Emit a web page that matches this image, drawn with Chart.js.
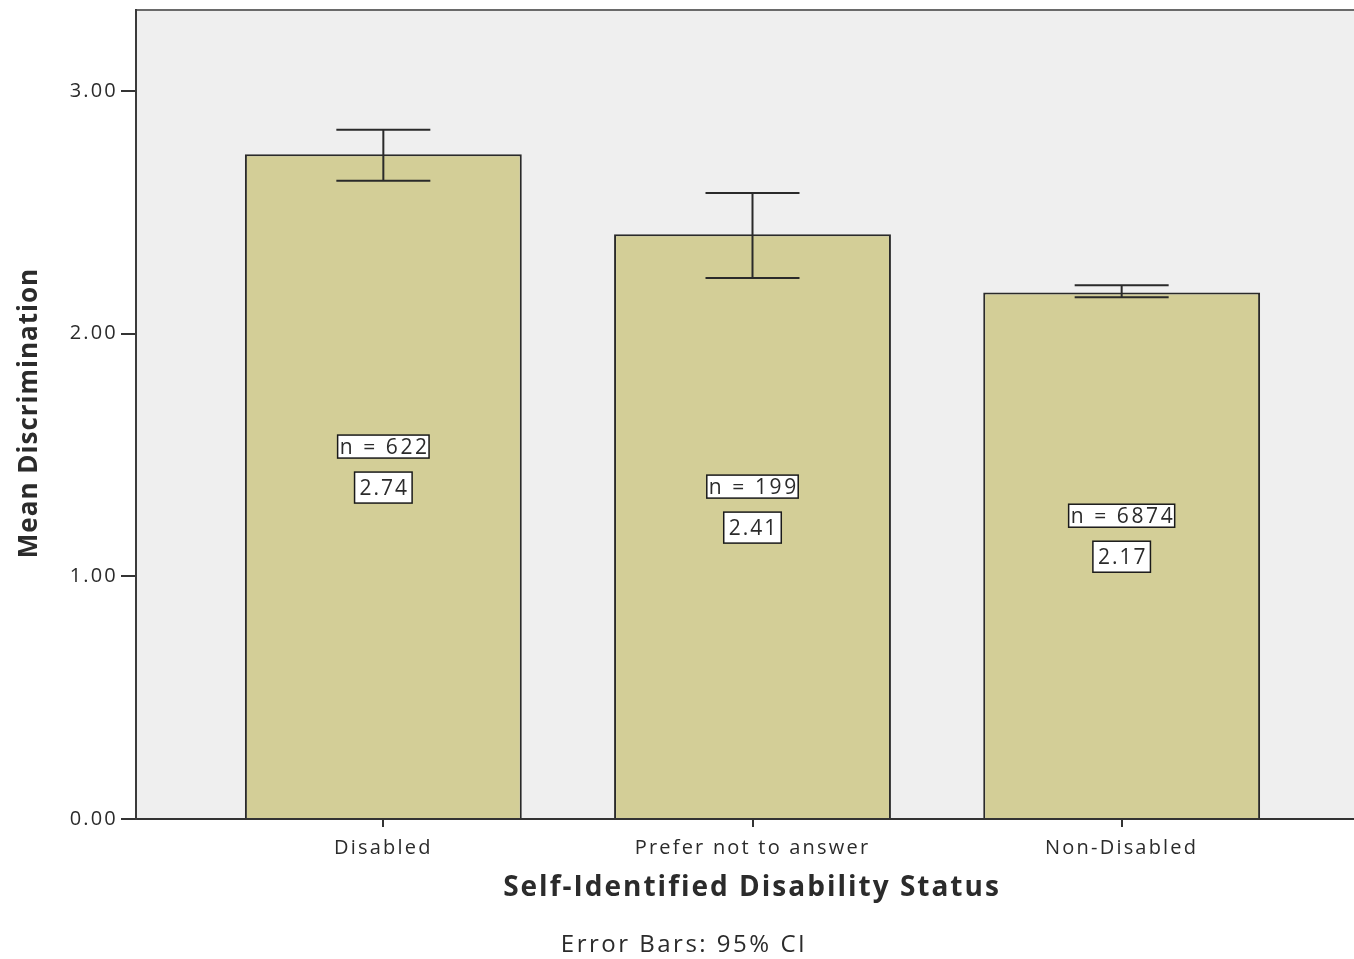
<!DOCTYPE html>
<html>
<head>
<meta charset="utf-8">
<script src="https://cdn.jsdelivr.net/npm/chart.js@4"></script>
<style>
  html, body { margin: 0; padding: 0; background: #ffffff; overflow: hidden; }
  #wrap { width: 1354px; height: 959px; overflow: hidden; }
  canvas { display: block; }
</style>
</head>
<body>
<div id="wrap"><canvas id="c" width="1380" height="959"></canvas></div>
<script>
// ---- data ----
const categories = ['Disabled', 'Prefer not to answer', 'Non-Disabled'];
const means = [2.74, 2.41, 2.17];
const ciLow = [2.63, 2.23, 2.15];
const ciHigh = [2.84, 2.58, 2.20];
const nCounts = [622, 199, 6874];
const yTicks = [0, 1, 2, 3];
const xTitle = 'Self-Identified Disability Status';
const yTitle = 'Mean Discrimination';
const footnote = 'Error Bars: 95% CI';

const FONT = '"Open Sans", "DejaVu Sans", sans-serif';
const TEXT = '#2b2b2b';

const plotBg = {
  id: 'plotBg',
  beforeDraw(chart) {
    const { ctx, chartArea: a } = chart;
    ctx.save();
    ctx.fillStyle = '#efefef';
    ctx.fillRect(a.left, a.top, a.right - a.left, a.bottom - a.top);
    ctx.strokeStyle = '#6a6a6a';
    ctx.lineWidth = 2;
    ctx.beginPath();
    ctx.moveTo(a.left, a.top);
    ctx.lineTo(a.right, a.top);
    ctx.stroke();
    ctx.restore();
    ctx.letterSpacing = '2.2px';
  }
};

const extras = {
  id: 'extras',
  afterDatasetsDraw(chart) {
    const { ctx, scales: { x, y } } = chart;
    ctx.save();
    // error bars
    ctx.strokeStyle = '#2a2a2a';
    ctx.lineWidth = 2;
    for (let i = 0; i < categories.length; i++) {
      const px = x.getPixelForValue(i);
      const yh = y.getPixelForValue(ciHigh[i]);
      const yl = y.getPixelForValue(ciLow[i]);
      ctx.beginPath();
      ctx.moveTo(px, yh); ctx.lineTo(px, yl);
      ctx.moveTo(px - 47, yh); ctx.lineTo(px + 47, yh);
      ctx.moveTo(px - 47, yl); ctx.lineTo(px + 47, yl);
      ctx.stroke();
    }
    // labels in boxes
    ctx.textAlign = 'center';
    ctx.textBaseline = 'middle';
    function box(text, cx, cy, padX, h, size, spacing) {
      ctx.font = size + 'px ' + FONT;
      ctx.letterSpacing = spacing + 'px';
      const w = ctx.measureText(text).width - spacing + padX * 2;
      ctx.fillStyle = '#ffffff';
      ctx.fillRect(cx - w / 2, cy - h / 2, w, h);
      ctx.strokeStyle = '#1a1a1a';
      ctx.lineWidth = 1.5;
      ctx.strokeRect(cx - w / 2, cy - h / 2, w, h);
      ctx.fillStyle = TEXT;
      ctx.fillText(text, cx + spacing / 2, cy + 1);
    }
    for (let i = 0; i < categories.length; i++) {
      const px = x.getPixelForValue(i);
      const mid = y.getPixelForValue(means[i] / 2);
      box('n = ' + nCounts[i], px, mid - 40, 2, 23, 21, 2.6);
      box(means[i].toFixed(2), px, mid + 1, 5, 31, 21, 2);
    }
    ctx.restore();
  },
  afterDraw(chart) {
    const { ctx } = chart;
    ctx.save();
    ctx.fillStyle = TEXT;
    ctx.textAlign = 'center';
    ctx.textBaseline = 'middle';
    ctx.letterSpacing = '2px';
    ctx.font = 'bold 28px ' + FONT;
    ctx.fillText(xTitle, 752, 888);
    ctx.letterSpacing = '2.5px';
    ctx.font = '24px ' + FONT;
    ctx.fillText(footnote, 684, 945);
    ctx.translate(30, 413);
    ctx.rotate(-Math.PI / 2);
    ctx.letterSpacing = '1px';
    ctx.font = 'bold 26px ' + FONT;
    ctx.fillText(yTitle, 0, 0);
    ctx.restore();
  }
};

new Chart(document.getElementById('c'), {
  type: 'bar',
  data: {
    datasets: [{
      data: means.map((v, i) => ({ x: i, y: v })),
      backgroundColor: '#d3ce97',
      borderColor: '#2a2a2a',
      borderWidth: 2,
      categoryPercentage: 0.75,
      barPercentage: 1.0
    }]
  },
  options: {
    responsive: false,
    animation: false,
    devicePixelRatio: 1,
    layout: { padding: { top: 10, right: 11, left: 0, bottom: 0 } },
    plugins: { legend: { display: false }, tooltip: { enabled: false } },
    scales: {
      x: {
        type: 'linear',
        offset: false,
        min: -0.67,
        max: 2.67,
        afterBuildTicks(s) { s.ticks = categories.map((c, i) => ({ value: i })); },
        afterFit(s) { s.height = 140; s.paddingLeft = 0; s.paddingRight = 0; },
        ticks: {
          autoSkip: false,
          maxRotation: 0,
          padding: 9,
          color: TEXT,
          font: { family: FONT, size: 20 },
          callback: (v) => categories[v]
        },
        grid: { offset: false, drawOnChartArea: false, tickLength: 8, color: '#333', lineWidth: 2 },
        border: { display: true, color: '#333', width: 2 }
      },
      y: {
        min: 0,
        max: 3.334,
        afterBuildTicks(s) { s.ticks = yTicks.map(v => ({ value: v })); },
        afterFit(s) { s.width = 136; s.paddingTop = 0; s.paddingBottom = 0; },
        ticks: {
          padding: 3,
          color: TEXT,
          font: { family: FONT, size: 20 },
          callback: (v) => Number(v).toFixed(2)
        },
        grid: { drawOnChartArea: false, tickLength: 15, color: '#333', lineWidth: 2 },
        border: { display: true, color: '#3a3a3a', width: 2 }
      }
    }
  },
  plugins: [plotBg, extras]
});
</script>
</body>
</html>
